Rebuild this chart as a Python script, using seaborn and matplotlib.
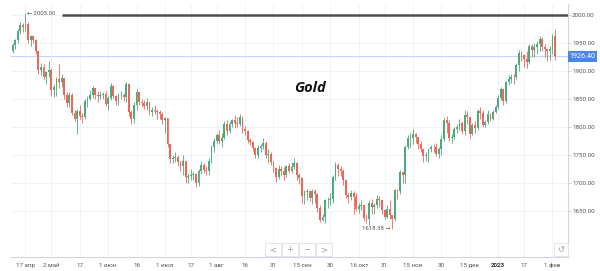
import numpy as np
import pandas as pd
import matplotlib
matplotlib.use("Agg")
import matplotlib.pyplot as plt
import matplotlib.transforms as mtransforms
from matplotlib.patches import Rectangle
import seaborn as sns

# ---------------- data ----------------
holidays = ["2022-04-15", "2022-07-04", "2022-12-26", "2023-01-02"]
first_open = 1935

closes = [
    1947, 1955, 1972, 1982, 1978, 1984, 1955, 1962, 1956, 1936, 1902, 1908, 1890, 1898, 1902,
    1866, 1872, 1885, 1880, 1887, 1858, 1843, 1857, 1825, 1815, 1828, 1820, 1818, 1846, 1850, 1857, 1870, 1857, 1855, 1857, 1859, 1841,
    1852, 1874, 1855, 1846, 1857, 1858, 1853, 1877, 1826, 1814, 1840, 1862, 1845, 1843, 1838, 1844, 1827, 1831, 1828, 1826, 1823, 1812,
    1816, 1770, 1742, 1745, 1747, 1738, 1730, 1740, 1710, 1712, 1714, 1716, 1700, 1722, 1732, 1724, 1722, 1740, 1765, 1775,
    1785, 1775, 1780, 1806, 1792, 1805, 1812, 1808, 1805, 1818, 1797, 1792, 1777, 1773, 1762, 1750, 1762, 1766, 1772, 1750, 1752, 1737, 1726,
    1710, 1725, 1722, 1714, 1730, 1722, 1728, 1735, 1714, 1709, 1677, 1684, 1685, 1674, 1685, 1681, 1655, 1634, 1639, 1669, 1670, 1672,
    1710, 1733, 1725, 1722, 1705, 1678, 1675, 1683, 1675, 1653, 1659, 1660, 1638, 1636, 1665, 1658, 1660, 1672, 1670, 1652, 1640,
    1654, 1642, 1635, 1688, 1685, 1720, 1715, 1765, 1780, 1780, 1787, 1783, 1770, 1760, 1748, 1750, 1760, 1765, 1764, 1752, 1760, 1778,
    1813, 1808, 1780, 1782, 1797, 1800, 1808, 1792, 1822, 1818, 1788, 1804, 1798, 1828, 1825, 1803, 1809, 1824, 1815, 1826, 1835,
    1852, 1868, 1846, 1880, 1886, 1890, 1889, 1910, 1932, 1928, 1922, 1916, 1945, 1938, 1943, 1949, 1958, 1942, 1940, 1935, 1940,
    1962, 1926.40,
]
highs = [
    1950, 1958, 1975, 1987, 1986, 2003, 1988, 1965, 1965, 1958, 1936, 1914, 1912, 1900, 1918,
    1905, 1877, 1889, 1912, 1895, 1888, 1862, 1862, 1860, 1830, 1832, 1840, 1825, 1850, 1855, 1866, 1874, 1870, 1865, 1865, 1862, 1865,
    1856, 1878, 1875, 1858, 1860, 1865, 1860, 1880, 1878, 1830, 1845, 1868, 1860, 1850, 1848, 1852, 1845, 1835, 1840, 1833, 1830, 1826,
    1818, 1815, 1770, 1750, 1755, 1750, 1740, 1750, 1740, 1718, 1725, 1720, 1718, 1725, 1740, 1735, 1730, 1745, 1768, 1780,
    1790, 1795, 1790, 1810, 1812, 1810, 1815, 1822, 1818, 1824, 1820, 1802, 1795, 1780, 1775, 1765, 1768, 1770, 1780, 1775, 1760, 1755, 1740,
    1728, 1732, 1730, 1728, 1732, 1735, 1738, 1745, 1738, 1718, 1710, 1688, 1690, 1688, 1690, 1690, 1682, 1660, 1645, 1672, 1675, 1683,
    1714, 1738, 1735, 1730, 1725, 1705, 1683, 1688, 1685, 1682, 1665, 1670, 1660, 1645, 1670, 1672, 1664, 1678, 1676, 1670, 1652,
    1660, 1670, 1640, 1690, 1690, 1723, 1720, 1768, 1786, 1790, 1797, 1790, 1783, 1775, 1760, 1755, 1762, 1768, 1770, 1772, 1765, 1785,
    1818, 1820, 1812, 1788, 1800, 1805, 1815, 1810, 1830, 1828, 1815, 1808, 1810, 1832, 1835, 1830, 1812, 1830, 1825, 1830, 1840,
    1858, 1872, 1868, 1883, 1892, 1895, 1895, 1915, 1937, 1935, 1930, 1935, 1948, 1948, 1950, 1953, 1962, 1960, 1948, 1940, 1945,
    1966, 1975,
]
lows = [
    1932, 1940, 1950, 1966, 1970, 1972, 1950, 1945, 1950, 1930, 1895, 1893, 1885, 1876, 1890,
    1855, 1854, 1856, 1870, 1872, 1850, 1835, 1835, 1822, 1810, 1788, 1815, 1808, 1815, 1836, 1848, 1852, 1850, 1845, 1850, 1850, 1838,
    1830, 1848, 1852, 1840, 1840, 1850, 1846, 1845, 1820, 1805, 1808, 1830, 1840, 1836, 1832, 1830, 1822, 1820, 1823, 1815, 1815, 1805,
    1790, 1765, 1735, 1735, 1738, 1730, 1722, 1715, 1700, 1700, 1705, 1705, 1693, 1695, 1716, 1718, 1715, 1715, 1735, 1755,
    1772, 1770, 1765, 1778, 1785, 1790, 1800, 1798, 1800, 1802, 1790, 1785, 1772, 1768, 1758, 1745, 1745, 1755, 1760, 1745, 1735, 1732, 1720,
    1702, 1708, 1715, 1705, 1710, 1718, 1718, 1725, 1705, 1698, 1665, 1662, 1670, 1668, 1662, 1665, 1648, 1630, 1632, 1628, 1655, 1660,
    1665, 1705, 1712, 1712, 1697, 1673, 1665, 1670, 1645, 1650, 1647, 1652, 1632, 1628, 1625, 1645, 1645, 1656, 1658, 1645, 1635,
    1638, 1635, 1618.38, 1632, 1672, 1680, 1700, 1700, 1760, 1762, 1770, 1772, 1760, 1755, 1738, 1740, 1738, 1755, 1755, 1748, 1745, 1750,
    1775, 1790, 1775, 1772, 1778, 1790, 1795, 1787, 1785, 1805, 1780, 1785, 1790, 1795, 1815, 1800, 1800, 1805, 1810, 1812, 1825,
    1832, 1848, 1840, 1842, 1875, 1878, 1877, 1885, 1900, 1918, 1908, 1905, 1912, 1925, 1925, 1930, 1935, 1935, 1925, 1918, 1920,
    1930, 1920,
]

y_ticks = [1650, 1700, 1750, 1800, 1850, 1900, 1950, 2000]
x_tick_dates = ["2022-04-17", "2022-05-02", "2022-05-17", "2022-06-01", "2022-06-16", "2022-07-01",
                "2022-07-17", "2022-08-01", "2022-08-16", "2022-08-31", "2022-09-15", "2022-09-30",
                "2022-10-16", "2022-10-31", "2022-11-15", "2022-11-30", "2022-12-15", "2023-01-01",
                "2023-01-17", "2023-02-01"]
x_tick_labels = ["17 апр", "2 май", "17", "1 июн", "16", "1 июл", "17", "1 авг", "16", "31",
                 "15 сен", "30", "16 окт", "31", "15 ноя", "30", "15 дек", "2023", "17", "1 фев"]
last_price = 1926.40
level_line = 2000
level_start = "2022-05-06"
max_price = 2003.00
min_price = 1618.38
title = "Gold"

# ---------------- build table ----------------
dates = pd.bdate_range("2022-04-08", "2023-02-02")
dates = dates[~dates.isin(pd.to_datetime(holidays))]
n = min(len(dates), len(closes))
df = pd.DataFrame({
    "date": dates[:n],
    "close": closes[:n],
    "high": highs[:n],
    "low": lows[:n],
})
df["open"] = [first_open] + closes[:n - 1]
df["high"] = df[["high", "open", "close"]].max(axis=1)
df["low"] = df[["low", "open", "close"]].min(axis=1)
df["idx"] = np.arange(n)
df["up"] = df["close"] >= df["open"]

def date_to_idx(d):
    d = pd.Timestamp(d)
    pos = np.searchsorted(df["date"].values, np.datetime64(d))
    return int(min(pos, n - 1))

# ---------------- figure ----------------
sns.set_theme(style="white")
plt.rcParams['font.family'] = ['Roboto', 'DejaVu Sans']

W, H = 600, 271
fig = plt.figure(figsize=(W / 100, H / 100), dpi=100)
fig.patch.set_facecolor("white")
ax = fig.add_axes([11 / W, 14 / H, 557 / W, 253 / H])
ax.set_facecolor("white")

up_col = "#4caa7e"
dn_col = "#ee6656"
colors = np.where(df["up"], up_col, dn_col)

ax.vlines(df["idx"], df["low"], df["high"], colors=colors, lw=0.6, zorder=3)
body_bottom = np.minimum(df["open"], df["close"])
body_h = np.maximum(np.abs(df["close"] - df["open"]), 0.8)
ax.bar(df["idx"], body_h, bottom=body_bottom, width=0.72, color=colors, lw=0, zorder=4)

ax.set_xlim(-0.6, 215.0)
ax.set_ylim(1567.9, 2019.6)

# grid
xt = [date_to_idx(d) for d in x_tick_dates]
for v in y_ticks:
    ax.axhline(v, color="#eef1f6", lw=0.6, zorder=0)
for v in xt:
    ax.axvline(v, color="#eef1f6", lw=0.6, zorder=0)

# last price line
ax.axhline(last_price, color="#c3d6f5", lw=0.8, zorder=2)

# level line
ax.hlines(level_line, date_to_idx(level_start), 215.0, color="#4d4d4d", lw=1.8, zorder=5)

# max / min markers
imax = int(df["high"].idxmax())
imin = int(df["low"].idxmin())
ax.text(df["idx"][imax] + 0.6, max_price, "← " + f"{max_price:.2f}", fontsize=4.3,
        color="#555555", ha="left", va="center", zorder=6)
ax.text(df["idx"][imin] - 0.6, min_price, f"{min_price:.2f}" + " →", fontsize=4.3,
        color="#555555", ha="right", va="center", zorder=6)

# axes styling
for s in ["top", "left"]:
    ax.spines[s].set_visible(False)
ax.spines["right"].set_color("#cfd6e0")
ax.spines["bottom"].set_color("#cfd6e0")
ax.spines["right"].set_linewidth(0.8)
ax.spines["bottom"].set_linewidth(0.8)

ax.yaxis.tick_right()
ax.set_yticks(y_ticks)
ax.set_yticklabels([f"{v:.2f}" for v in y_ticks])
ax.tick_params(axis="y", which="both", length=2, width=0.5, color="#bbbbbb",
               labelsize=4.5, labelcolor="#555555", pad=1, right=True, left=False)
ax.set_xticks(xt)
ax.set_xticklabels(x_tick_labels)
ax.tick_params(axis="x", length=0, labelsize=4.5, labelcolor="#555555", pad=4)
for lbl in ax.get_xticklabels():
    if lbl.get_text() == "2023":
        lbl.set_fontweight("bold")
        lbl.set_color("#333333")

# last price box
trans = mtransforms.blended_transform_factory(ax.transAxes, ax.transData)
ax.text(1.003, last_price, f"{last_price:.2f}", transform=trans, fontsize=5.2, color="white",
        ha="left", va="center", zorder=10, clip_on=False,
        bbox=dict(boxstyle="square,pad=0.25", fc="#4a86e8", ec="none"))

# title
fig.text(310 / W, 1 - 88 / H, title, fontsize=10.5, fontweight="bold", fontstyle="italic",
         ha="center", va="center", color="#111111", family=["Open Sans", "DejaVu Sans"])

# navigation buttons (decoration)
def button(x0, sym, w=16):
    fig.add_artist(Rectangle((x0 / W, 1 - 256 / H), w / W, 13 / H, transform=fig.transFigure,
                             fc="white", ec="#dde1e8", lw=0.6, zorder=20))
    fig.text((x0 + w / 2) / W, 1 - 249.5 / H, sym, fontsize=6, color="#9aa0a8",
             ha="center", va="center", zorder=21, family=["DejaVu Sans"])

button(265, "<")
button(282, "+")
button(299, "−")
button(316, ">")
button(554, "↺", w=14)

fig.savefig("out.png", dpi=100, facecolor="white")
